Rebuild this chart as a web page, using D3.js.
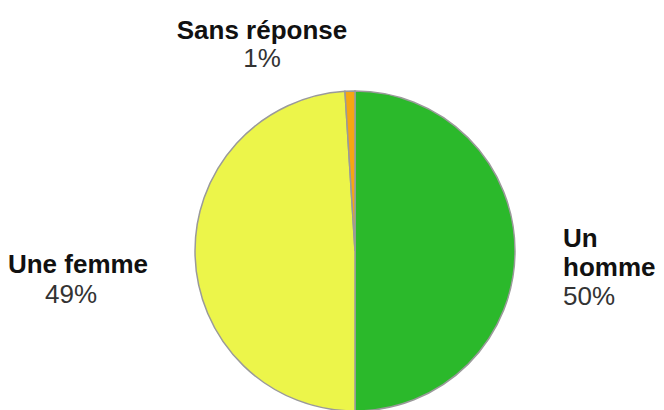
<!DOCTYPE html>
<html>
<head>
<meta charset="utf-8">
<script src="https://cdn.jsdelivr.net/npm/d3@7"></script>
<style>
  body { margin: 0; background: #fff; }
  text { font-family: "Liberation Sans", Arial, sans-serif; }
</style>
</head>
<body>
<div id="chart"></div>
<script>
const labels = ["Un homme", "Une femme", "Sans réponse"];
const values = [50, 49, 1];
const colors = ["#2bb92b", "#ecf54a", "#f6a612"];

const width = 664, height = 410;
const cx = 355, cy = 251, radius = 160;

const svg = d3.select("#chart")
  .append("svg")
  .attr("width", width)
  .attr("height", height);

const data = labels.map((l, i) => ({ label: l, value: values[i], color: colors[i] }));

const pie = d3.pie().sort(null).value(d => d.value);
const arc = d3.arc().innerRadius(0).outerRadius(radius);

const g = svg.append("g")
  .attr("transform", `translate(${cx},${cy})`);

g.selectAll("path")
  .data(pie(data))
  .join("path")
  .attr("d", arc)
  .style("fill", d => d.data.color)
  .style("stroke", "#9a9a9a")
  .style("stroke-width", 1.5);

// label positions (line lists: bold name lines + percentage)
const labelSpecs = [
  { lines: ["Un", "homme"], x: 563, y: 247, anchor: "start", dy: 29 },
  { lines: ["Une femme"], x: 78, y: 273, anchor: "middle", dy: 30 },
  { lines: ["Sans réponse"], x: 262, y: 39, anchor: "middle", dy: 28 }
];

labelSpecs.forEach((s, i) => {
  const t = svg.append("text")
    .attr("x", s.x)
    .attr("y", s.y)
    .attr("text-anchor", s.anchor)
    .style("font-size", "26px");
  s.lines.forEach((ln, j) => {
    t.append("tspan")
      .attr("x", s.x)
      .attr("dy", j === 0 ? 0 : s.dy)
      .style("font-weight", "bold")
      .style("fill", "#111")
      .text(ln);
  });
  t.append("tspan")
    .attr("x", i === 1 ? s.x - 7 : s.x)
    .attr("dy", s.dy)
    .style("fill", "#333")
    .text(values[i] + "%");
});
</script>
</body>
</html>
